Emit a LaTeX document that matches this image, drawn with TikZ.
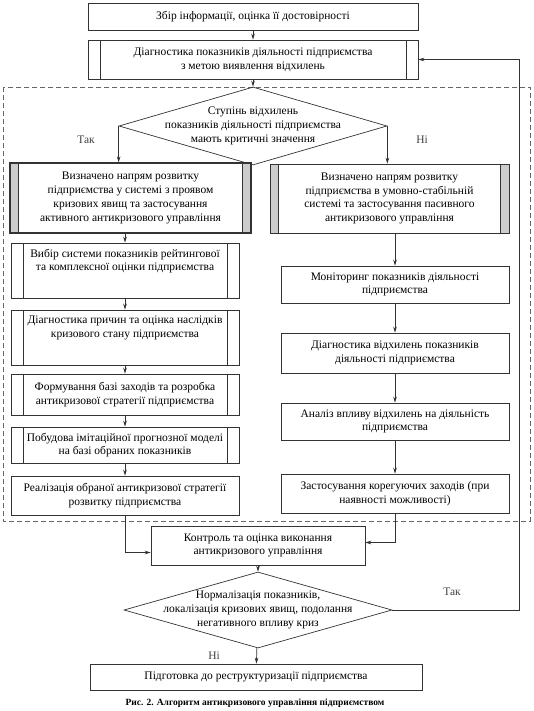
\documentclass[tikz,border=0pt]{standalone}
\usepackage{fontspec}
\setmainfont{Liberation Serif}
\usepackage{tikz}
\usetikzlibrary{
  arrows.meta,
  positioning,
  calc,
  shapes.geometric
}

\begin{document}
\begin{tikzpicture}[
      x=1pt, y=-1pt,
      >={Stealth[length=6pt, width=3.6pt]},
      blok/.style={draw=black!80, line width=0.7pt, rectangle, inner sep=0pt, align=center, text=black, font=\fontsize{11.5pt}{13.7pt}\selectfont},
      proces/.style={blok, path picture={
          \draw[black!80, line width=0.7pt] ([xshift=12pt]path picture bounding box.north west) -- ([xshift=12pt]path picture bounding box.south west);
          \draw[black!80, line width=0.7pt] ([xshift=-12pt]path picture bounding box.north east) -- ([xshift=-12pt]path picture bounding box.south east);}},
      napriam/.style={blok, path picture={
          \fill[gray!40] (path picture bounding box.north west) rectangle ([xshift=8.5pt]path picture bounding box.south west);
          \fill[gray!40] (path picture bounding box.north east) rectangle ([xshift=-8.5pt]path picture bounding box.south east);
          \draw[black!80, line width=0.7pt] ([xshift=8.5pt]path picture bounding box.north west) -- ([xshift=8.5pt]path picture bounding box.south west);
          \draw[black!80, line width=0.7pt] ([xshift=-8.5pt]path picture bounding box.north east) -- ([xshift=-8.5pt]path picture bounding box.south east);}},
      rishennia/.style={blok, diamond, aspect=3.5, inner xsep=-40pt, inner ysep=-5pt},
      vhoru/.style={text depth=21pt},
      seta/.style={->, draw=black!80, line width=0.7pt},
      mitka/.style={text=black!75, font=\fontsize{11.5pt}{13.7pt}\selectfont},
      ramka/.style={draw=black!60, line width=0.7pt, dash pattern=on 5pt off 3pt}
  ]
      \useasboundingbox (0,0) rectangle (534,711);

      % Верхні блоки
      \node[blok, minimum width=330, minimum height=27] (zbir) at (253,16.5) {Збір інформації, оцінка її достовірності};
      \node[proces, minimum width=330, minimum height=39] (diag) at (253,59.5) {Діагностика показників діяльності підприємства\\ з метою виявлення відхилень};

      % Пунктирна рамка
      \draw[ramka] (3,87) rectangle (530,521);

      \node[rishennia, minimum width=268, minimum height=78] (stup) at (253,126) {Ступінь відхилень\\ показників діяльності підприємства\\ мають критичні значення};
      \node[mitka] (tak1) at (86,140) {Так};
      \node[mitka] (ni1) at (422,140) {Ні};

      \node[napriam, line width=1.3pt, minimum width=241, minimum height=70] (dirA) at (130.5,198) {Визначено напрям розвитку\\ підприємства у системі з проявом\\ кризових явищ та застосування\\ активного антикризового управління};
      \node[napriam, minimum width=239, minimum height=69] (dirP) at (389.5,198.5) {Визначено напрям розвитку\\ підприємства в умовно-стабільній\\ системі та застосування пасивного\\ антикризового управління};

      % Ліва гілка
      \node[proces, vhoru, minimum width=228, minimum height=55] (vybir) at (125,270.5) {Вибір системи показників рейтингової\\ та комплексної оцінки підприємства};
      \node[proces, vhoru, minimum width=228, minimum height=55] (diagpr) at (125,337.5) {Діагностика причин та оцінка наслідків\\ кризового стану підприємства};
      \node[proces, minimum width=228, minimum height=41] (form) at (125,394.5) {Формування базі заходів та розробка\\ антикризової стратегії підприємства};
      \node[proces, minimum width=228, minimum height=36] (pobud) at (125,445) {Побудова імітаційної прогнозної моделі\\ на базі обраних показників};
      \node[blok, minimum width=228, minimum height=39] (real) at (125,495.5) {Реалізація обраної антикризової стратегії\\ розвитку підприємства};

      % Права гілка
      \node[blok, minimum width=228, minimum height=37] (monit) at (395,284.5) {Моніторинг показників діяльності\\ підприємства};
      \node[blok, minimum width=228, minimum height=40] (diagvid) at (395,353) {Діагностика відхилень показників\\ діяльності підприємства};
      \node[blok, minimum width=228, minimum height=37] (analiz) at (395,421.5) {Аналіз впливу відхилень на діяльність\\ підприємства};
      \node[blok, minimum width=228, minimum height=39] (zast) at (395,493.5) {Застосування корегуючих заходів (при\\ наявності можливості)};

      % Нижні блоки
      \node[blok, minimum width=214, minimum height=39] (kontr) at (258,545.5) {Контроль та оцінка виконання\\ антикризового управління};
      \node[rishennia, minimum width=268, minimum height=76] (norm) at (258,610) {Нормалізація показників,\\ локалізація кризових явищ, подолання\\ негативного впливу криз};
      \node[mitka] (tak2) at (452,592) {Так};
      \node[mitka] (ni2) at (214,656) {Ні};
      \node[blok, minimum width=332, minimum height=26] (pidg) at (256,677) {Підготовка до реструктуризації підприємства};
      \coordinate (povern) at (519,59.5);

      \node[text=black, font=\fontsize{9.5pt}{11pt}\selectfont\bfseries] (pidpys) at (255,703) {Рис. 2. Алгоритм антикризового управління підприємством};

      % Стрілки
      \draw[seta] (zbir) -- (diag);
      \draw[seta] (diag) -- (stup);
      \draw[seta] (stup.west) -- (stup.west |- dirA.north);
      \draw[seta] (stup.east) -- (stup.east |- dirP.north);
      \draw[seta] (vybir.north |- dirA.south) -- (vybir.north);
      \draw[seta] (vybir) -- (diagpr);
      \draw[seta] (diagpr) -- (form);
      \draw[seta] (form) -- (pobud);
      \draw[seta] (pobud) -- (real);
      \draw[seta] (monit.north |- dirP.south) -- (monit.north);
      \draw[seta] (monit) -- (diagvid);
      \draw[seta] (diagvid) -- (analiz);
      \draw[seta] (analiz) -- (zast);
      \draw[seta] (real.south) |- ([yshift=-7pt]kontr.west);
      \draw[seta] (zast.south) |- ([yshift=3pt]kontr.east);
      \draw[seta] (kontr) -- (norm);
      \draw[seta] (norm) -- (pidg);
      \draw[seta] (norm.east) -| (povern) -- (diag.east);
  \end{tikzpicture}
\end{document}
